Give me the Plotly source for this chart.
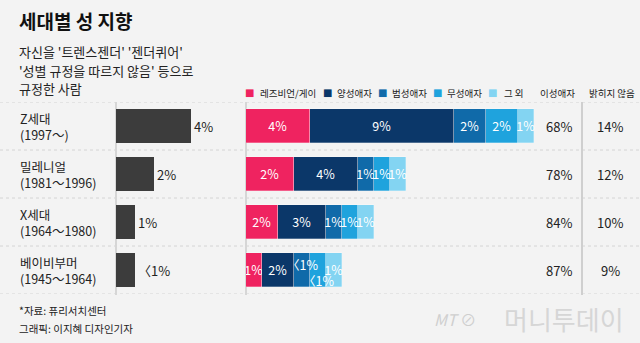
import plotly.graph_objects as go

W, H = 640, 343
FONT = "Noto Sans CJK KR"

# ---- data ----
generations = ["Z세대", "밀레니얼", "X세대", "베이비부머"]
gen_years = ["(1997～)", "(1981～1996)", "(1964～1980)", "(1945～1964)"]

trans_queer = [4, 2, 1, 1]
trans_queer_labels = ["4%", "2%", "1%", "〈1%"]

series_names = ["레즈비언/게이", "양성애자", "범성애자", "무성애자", "그 외"]
lesbian_gay = [4, 3, 2, 1]
bisexual = [9, 4, 3, 2]
pansexual = [2, 1, 1, 1]
asexual = [2, 1, 1, 1]
other = [1, 1, 1, 1]
lesbian_gay_labels = ["4%", "2%", "2%", "1%"]
bisexual_labels = ["9%", "4%", "3%", "2%"]
pansexual_labels = ["2%", "1%", "1%", "〈1%"]
asexual_labels = ["2%", "1%", "1%", "〈1%"]
other_labels = ["1%", "1%", "1%", "1%"]

heterosexual = ["68%", "78%", "84%", "87%"]
undisclosed = ["14%", "12%", "10%", "9%"]

colors = ["#ef2360", "#0b3769", "#106aa9", "#1fa3dd", "#83d4f2"]

def px(x):
    return x / W

def py(y):
    return 1 - y / H

fig = go.Figure()

# left bars
fig.add_trace(go.Bar(
    x=trans_queer, y=generations, orientation="h", xaxis="x", yaxis="y",
    marker=dict(color="#3c3c3c", line=dict(width=0)),
    width=0.71, text=trans_queer_labels, textposition="outside",
    textfont=dict(family=FONT, size=13, color="#222"),
    constraintext="none", cliponaxis=False, showlegend=False, hoverinfo="skip",
))

series_vals = [lesbian_gay, bisexual, pansexual, asexual, other]
series_labels = [lesbian_gay_labels, bisexual_labels, pansexual_labels,
                 asexual_labels, other_labels]
shifted = {(2, 3): 6, (3, 3): -10}
for si, (name, vals, labs) in enumerate(zip(series_names, series_vals, series_labels)):
    txt = [("" if (si, i) in shifted else t) for i, t in enumerate(labs)]
    fig.add_trace(go.Bar(
        x=vals, y=generations, orientation="h", xaxis="x2", yaxis="y",
        name=name, marker=dict(color=colors[si], line=dict(width=0.6, color="rgba(255,255,255,0.45)")),
        width=0.71, text=txt, textposition="inside", insidetextanchor="middle",
        textangle=0, constraintext="none",
        insidetextfont=dict(family=FONT, size=12.5, color="white"),
        showlegend=False, hoverinfo="skip",
    ))

annotations = []
# shifted small labels
for (si, i), dy in shifted.items():
    base = sum(series_vals[k][i] for k in range(si))
    annotations.append(dict(
        x=base + series_vals[si][i] / 2, y=generations[i], xref="x2", yref="y",
        xanchor="center", text=series_labels[si][i], showarrow=False, yshift=dy,
        font=dict(family=FONT, size=12.5, color="white")))

# row labels
for g, yr in zip(generations, gen_years):
    annotations.append(dict(
        x=px(18), y=g, xref="paper", yref="y", xanchor="left", yanchor="middle",
        align="left", text=f"{g}<br>{yr}", showarrow=False,
        font=dict(family=FONT, size=12.5, color="#222")))

# right value columns
for g, a, b in zip(generations, heterosexual, undisclosed):
    annotations.append(dict(x=px(559), y=g, xref="paper", yref="y", text=a,
                            xanchor="center", yanchor="middle", showarrow=False,
                            font=dict(family=FONT, size=13, color="#222")))
    annotations.append(dict(x=px(610), y=g, xref="paper", yref="y", text=b,
                            xanchor="center", yanchor="middle", showarrow=False,
                            font=dict(family=FONT, size=13, color="#222")))

# legend
sq_x = [249.5, 327, 382, 437, 492]
txt_x = [258, 335, 390, 445, 502]
for sx, tx, name, c in zip(sq_x, txt_x, series_names, colors):
    annotations.append(dict(
        x=px(sx), y=py(92.5), xref="paper", yref="paper", xanchor="center", yanchor="middle",
        text="■", showarrow=False, font=dict(family="DejaVu Sans", size=10, color=c)))
    annotations.append(dict(
        x=px(tx), y=py(92.5), xref="paper", yref="paper", xanchor="left", yanchor="middle",
        text=name, showarrow=False, font=dict(family=FONT, size=9.5, color="#222")))
annotations.append(dict(x=px(557.5), y=py(92.5), xref="paper", yref="paper", text="이성애자",
                        showarrow=False, xanchor="center", yanchor="middle",
                        font=dict(family=FONT, size=9.5, color="#222")))
annotations.append(dict(x=px(612), y=py(92.5), xref="paper", yref="paper", text="밝히지 않음",
                        showarrow=False, xanchor="center", yanchor="middle",
                        font=dict(family=FONT, size=9.5, color="#222")))

# titles
annotations.append(dict(x=px(17), y=py(21), xref="paper", yref="paper", xanchor="left",
                        yanchor="middle", text="<b>세대별 성 지향</b>", showarrow=False,
                        font=dict(family=FONT, size=19, color="#111")))
for txt, yy in [("자신을 '트렌스젠더' '젠더퀴어'", 51), ("'성별 규정을 따르지 않음' 등으로", 70),
                ("규정한 사람", 88)]:
    annotations.append(dict(x=px(17), y=py(yy), xref="paper", yref="paper", xanchor="left",
                            yanchor="middle", text=txt, showarrow=False,
                            font=dict(family=FONT, size=13, color="#222")))

# footer
annotations.append(dict(x=px(17), y=py(310), xref="paper", yref="paper", xanchor="left",
                        yanchor="middle", text="*자료: 퓨리서치센터", showarrow=False,
                        font=dict(family=FONT, size=10.5, color="#222")))
annotations.append(dict(x=px(17), y=py(328), xref="paper", yref="paper", xanchor="left",
                        yanchor="middle", text="그래픽: 이지혜 디자인기자", showarrow=False,
                        font=dict(family=FONT, size=10.5, color="#222")))
annotations.append(dict(x=px(432), y=py(319), xref="paper", yref="paper", xanchor="left",
                        yanchor="middle", text="<i>MT</i> ⊘", showarrow=False,
                        font=dict(family=FONT, size=16, color="#cfcfcf")))
annotations.append(dict(x=px(626), y=py(318), xref="paper", yref="paper", xanchor="right",
                        yanchor="middle", text="머니투데이", showarrow=False,
                        font=dict(family=FONT, size=26, color="#d6d6d6")))

shapes = []
# dashed separators
for k in range(len(generations) + 1):
    shapes.append(dict(type="line", xref="paper", yref="y", x0=0, x1=1,
                       y0=k - 0.5, y1=k - 0.5, layer="below",
                       line=dict(color="#d4d4d4", width=1, dash="dot")))
# vertical axis lines
for xv, col in [(116, "#d6d6d6"), (246, "#d6d6d6"), (582, "#cfcfcf")]:
    shapes.append(dict(type="line", xref="paper", yref="paper", x0=px(xv), x1=px(xv),
                       y0=py(295), y1=py(102), layer="below",
                       line=dict(color=col, width=2)))

fig.update_layout(
    width=W, height=H, margin=dict(l=0, r=0, t=0, b=0),
    paper_bgcolor="#f3f3f3", plot_bgcolor="rgba(0,0,0,0)",
    barmode="stack", bargap=0,
    xaxis=dict(domain=[px(116), px(236)], range=[0, 6.4], visible=False, fixedrange=True),
    xaxis2=dict(domain=[px(246), px(540)], range=[0, 294 / 16], visible=False,
                anchor="y", fixedrange=True),
    yaxis=dict(domain=[py(294), py(102)], range=[3.5, -0.5], visible=False,
               type="category", categoryorder="array", categoryarray=generations),
    annotations=annotations, shapes=shapes, showlegend=False,
    font=dict(family=FONT),
)

fig.write_html("out.html")
